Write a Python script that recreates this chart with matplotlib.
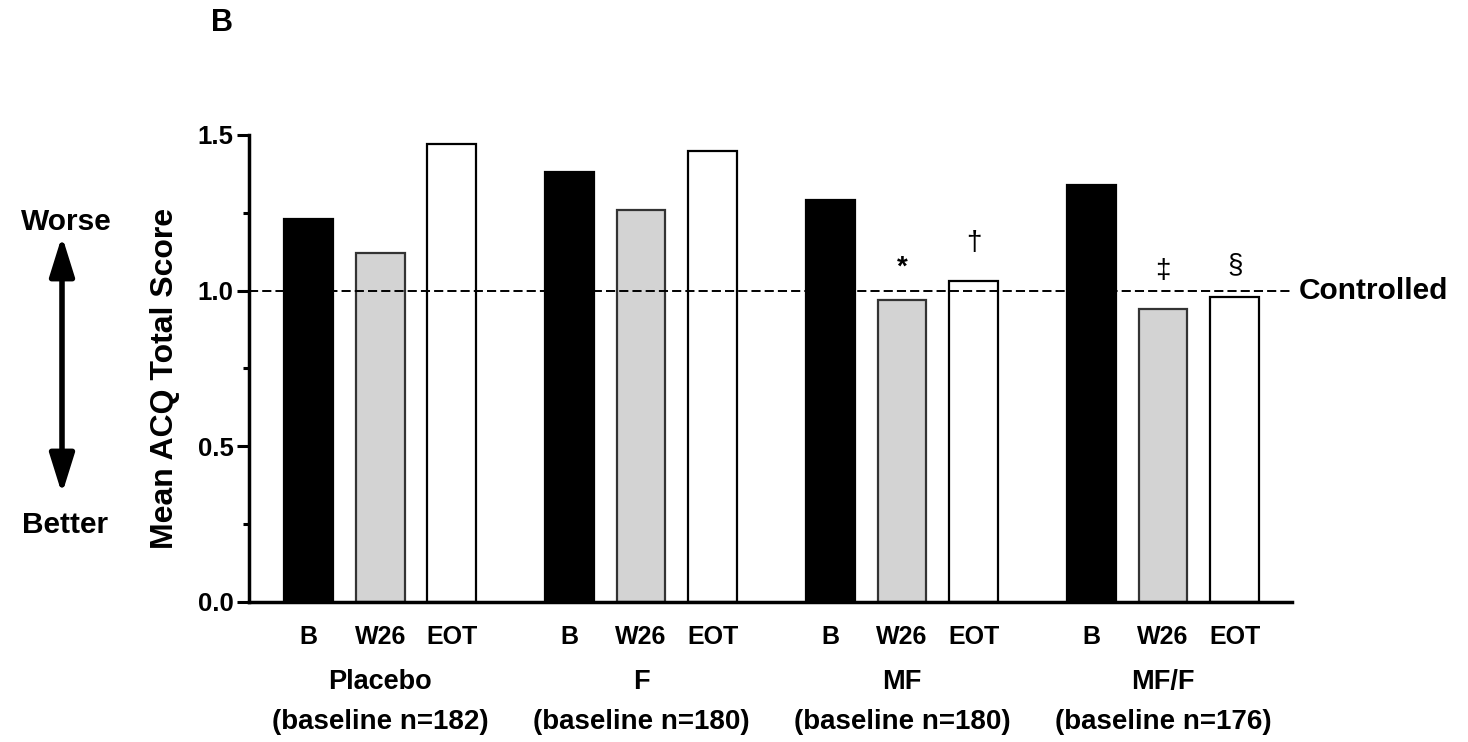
import matplotlib
matplotlib.use("Agg")
import matplotlib.pyplot as plt
from matplotlib.ticker import MultipleLocator
import numpy as np

plt.rcParams['font.family'] = ['Liberation Sans', 'DejaVu Sans']

groups = ['Placebo', 'F', 'MF', 'MF/F']
baseline_n = [182, 180, 180, 176]
timepoints = ['B', 'W26', 'EOT']
b_vals = [1.23, 1.38, 1.29, 1.34]
w26_vals = [1.12, 1.26, 0.97, 0.94]
eot_vals = [1.47, 1.45, 1.03, 0.98]
w26_marks = ['', '', '*', '\u2021']
eot_marks = ['', '', '\u2020', '\u00a7']
controlled_level = 1.0

W, H = 1468, 742
fig = plt.figure(figsize=(W / 100, H / 100), dpi=100)
ax = fig.add_axes([249 / W, 1 - 601.7 / H, (1292 - 249) / W, (601.7 - 135) / H])

gap = 3.64
bw = 0.68
gx = np.arange(len(groups)) * gap
series = [b_vals, w26_vals, eot_vals]
faces = ['black', '#d3d3d3', 'white']
edges = ['black', '#333333', 'black']
for i, (vals, fc, ec) in enumerate(zip(series, faces, edges)):
    ax.bar(gx + i, vals, width=bw, color=fc, edgecolor=ec, linewidth=1.6, zorder=2)

ax.axhline(controlled_level, color='black', lw=1.4, ls=(0, (4.7, 2.1)), zorder=3)

ax.set_xlim(-0.83, 13.72)
ax.set_ylim(0, 1.5)
ax.yaxis.set_major_locator(MultipleLocator(0.5))
ax.yaxis.set_minor_locator(MultipleLocator(0.25))
ax.yaxis.set_major_formatter(matplotlib.ticker.FormatStrFormatter('%.1f'))
for s in ['top', 'right']:
    ax.spines[s].set_visible(False)
for s in ['left', 'bottom']:
    ax.spines[s].set_linewidth(2.5)
ax.tick_params(axis='y', which='major', length=9, width=2.2, labelsize=18.5, pad=2)
ax.tick_params(axis='y', which='minor', length=4.5, width=2.2)
for lab in ax.get_yticklabels():
    lab.set_fontweight('bold')

xt = np.concatenate([gx + i for i in range(3)])
xl = [tp for tp in timepoints for _ in groups]
ax.set_xticks(xt)
ax.set_xticklabels(xl, fontsize=18, fontweight='bold')
ax.tick_params(axis='x', length=0, pad=17)

for g, x0 in enumerate(gx):
    ax.annotate(groups[g], xy=(x0 + 1, 0), xycoords=('data', 'axes fraction'),
                xytext=(0, -57.6), textcoords='offset points', ha='center', va='center',
                fontsize=19.5, fontweight='bold')
    ax.annotate(f'(baseline n={baseline_n[g]})', xy=(x0 + 1, 0), xycoords=('data', 'axes fraction'),
                xytext=(0, -86.4), textcoords='offset points', ha='center', va='center',
                fontsize=20, fontweight='bold')

for g, x0 in enumerate(gx):
    for i, (vals, marks) in enumerate([(w26_vals, w26_marks), (eot_vals, eot_marks)], start=1):
        m = marks[g]
        if not m:
            continue
        off = 23 if m in ['*', '\u00a7'] else 27.5
        ax.annotate(m, xy=(x0 + i, vals[g]), xytext=(0, off), textcoords='offset points',
                    ha='center', va='center', fontsize=20,
                    fontweight='bold' if m == '*' else 'normal')

ax.annotate('Controlled', xy=(1, controlled_level), xycoords=('axes fraction', 'data'),
            xytext=(4.5, 0), textcoords='offset points', ha='left', va='center',
            fontsize=21.5, fontweight='bold')

fig.text(165 / W, 1 - 378 / H, 'Mean ACQ Total Score', rotation=90, ha='center', va='center',
         fontsize=23, fontweight='bold')
fig.text(222 / W, 1 - 23 / H, 'B', ha='center', va='center', fontsize=22, fontweight='bold')
fig.text(66 / W, 1 - 222 / H, 'Worse', ha='center', va='center', fontsize=21.5, fontweight='bold')
fig.text(65 / W, 1 - 525 / H, 'Better', ha='center', va='center', fontsize=21.5, fontweight='bold')
fig.patches.append(matplotlib.patches.FancyArrowPatch(
    (62 / W, 1 - 236 / H), (62 / W, 1 - 494 / H), transform=fig.transFigure,
    arrowstyle='<|-|>,head_length=2.4,head_width=0.75', mutation_scale=10,
    color='black', lw=4, shrinkA=0, shrinkB=0))

fig.savefig('out.png', dpi=100)
